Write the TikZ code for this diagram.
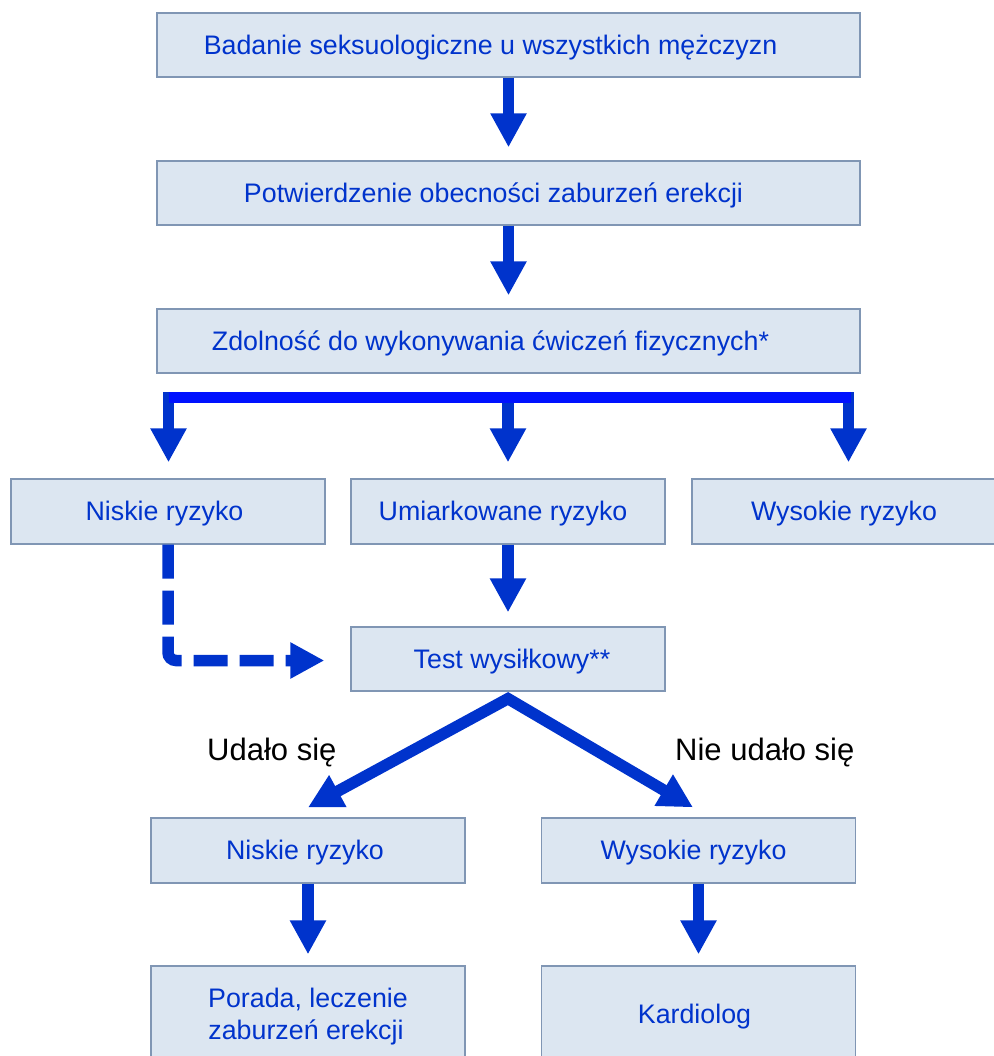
\documentclass[tikz,border=0pt]{standalone}
\usepackage{fontspec}
\setmainfont{Liberation Sans}
\usetikzlibrary{arrows.meta,calc}
\definecolor{boxfill}{RGB}{220,230,241}
\definecolor{boxline}{RGB}{128,150,180}
\definecolor{flow}{RGB}{0,51,204}
\definecolor{barblue}{RGB}{0,17,255}
\tikzset{
  box/.style={draw=boxline, line width=1.3pt, fill=boxfill, text=flow,
    font=\fontsize{26.8}{32}\selectfont, minimum height=64pt, inner sep=0pt,
    text height=20pt, text depth=1.4pt},
  wide/.style={box, minimum width=703pt},
  half/.style={box, minimum width=314pt},
  flowarrow/.style={draw=flow, line width=11.5pt, -{Triangle[length=34pt,width=34pt]}},
  lbl/.style={font=\fontsize{31}{36}\selectfont, anchor=base west, text=black, inner sep=0pt}
}
\begin{document}
\begin{tikzpicture}[x=1pt,y=-1pt]
\useasboundingbox (0,0) rectangle (993,1056);

% main column
\node[wide] (b1) at (508.5,45) {Badanie seksuologiczne u wszystkich mężczyzn\kern36pt};
\node[wide] (b2) at (508.5,193) {Potwierdzenie obecności zaburzeń erekcji\kern30pt};
\node[wide] (b3) at (508.5,341) {Zdolność do wykonywania ćwiczeń fizycznych*\kern36pt};

% risk groups
\node[half, minimum height=65pt] (n1) at (168,511.5) {Niskie ryzyko\kern7pt};
\node[half, minimum height=65pt] (um) at (508,511.5) {Umiarkowane ryzyko\kern10pt};
\node[half, minimum height=65pt] (wy) at (849,511.5) {Wysokie ryzyko\kern10pt};

\node[half] (test) at (508,659) {\kern8pt Test wysiłkowy**};

\node[half, minimum height=65pt] (lo) at (308,850.5) {Niskie ryzyko\kern6pt};
\node[half, minimum height=65pt] (hi) at (698.5,850.5) {Wysokie ryzyko\kern10pt};

\node[half, minimum height=102pt, align=center, text height=, text depth=] (por) at (308,1017)
  {Porada, leczenie\\zaburzeń erekcji\kern4pt};
\node[half, minimum height=96pt] (kar) at (698.5,1014) {Kardiolog\kern8pt};

% straight arrows of the main column
\draw[flowarrow, shorten >=13pt] (b1.south) -- (b2.north);
\draw[flowarrow, shorten >=13pt] (b2.south) -- (b3.north);

% branching bar
\coordinate (bl) at (168.5,392);
\coordinate (bm) at (508,392);
\coordinate (br) at (848.5,392);
\draw[flowarrow, shorten >=16pt] (bl) -- (bl |- n1.north);
\draw[flowarrow, shorten >=16pt] (bm) -- (bm |- um.north);
\draw[flowarrow, shorten >=16pt] (br) -- (br |- wy.north);
\draw[barblue, line width=11pt] ($(bl)+(0,5.5)$) -- ($(br)+(2,5.5)$);

% moderate risk to exercise test
\draw[flowarrow, shorten >=14pt] (um.south) -- (test.north);

% low risk: optional test
\draw[flowarrow, dash pattern=on 34pt off 12pt, rounded corners=8pt, shorten >=26pt]
  (n1.south) |- ($(test.west)+(0,1.5)$);

% outcomes of the test
\coordinate (apex) at ($(test.south)+(0,7)$);
\coordinate (tipL) at ($(lo.north)+(0,-10)$);
\coordinate (tipR) at ($(hi.north)+(-5.5,-10)$);
\draw[flowarrow, {Triangle[length=34pt,width=34pt]}-{Triangle[length=34pt,width=34pt]}, line join=miter]
  (tipL) -- (apex) -- (tipR);
\node[lbl] (ok) at (207,760) {Udało się};
\node[lbl] (fail) at (675,760) {Nie udało się};

\draw[flowarrow, shorten >=11pt] (lo.south) -- (por.north);
\draw[flowarrow, shorten >=11pt] (hi.south) -- (kar.north);
\end{tikzpicture}
\end{document}
